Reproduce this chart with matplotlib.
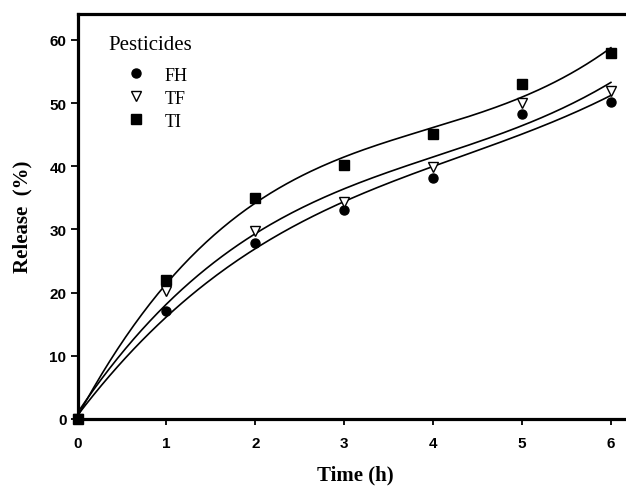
import numpy as np
import matplotlib
matplotlib.use("Agg")
import matplotlib.pyplot as plt
from matplotlib.lines import Line2D

# Release data (%) versus time (h)
time_h = [0, 1, 2, 3, 4, 5, 6]
fh = [0, 17.1, 27.8, 33.1, 38.1, 48.2, 50.1]
tf = [0, 20.2, 29.7, 34.4, 39.9, 50.0, 51.9]
ti = [0, 22.0, 35.0, 40.2, 45.1, 53.0, 58.0]

series_names = ["FH", "TF", "TI"]
series_values = [fh, tf, ti]
series_markers = ["o", "v", "s"]
series_faces = ["black", "white", "black"]
series_sizes = [6.5, 7, 6.5]

W, H = 626, 489
fig = plt.figure(figsize=(W / 100, H / 100), dpi=100)
ax = fig.add_axes([77.5 / W, 69 / H, (W - 77.5) / W, 405 / H])

x = np.asarray(time_h, dtype=float)
xs = np.linspace(0, 6, 200)
handles = []
for name, vals, mk, fc, ms in zip(series_names, series_values, series_markers,
                                  series_faces, series_sizes):
    y = np.asarray(vals, dtype=float)
    # cubic regression curve through the measured points
    coef = np.polyfit(x, y, 3)
    ax.plot(xs, np.polyval(coef, xs), color="black", lw=1.2, zorder=2)
    ax.plot(x, y, linestyle="none", marker=mk, markersize=ms,
            markerfacecolor=fc, markeredgecolor="black", markeredgewidth=1.0,
            clip_on=False, zorder=3)
    handles.append(Line2D([], [], linestyle="none", marker=mk, markersize=ms,
                          markerfacecolor=fc, markeredgecolor="black",
                          markeredgewidth=1.0, label=name))

ax.set_xlim(0, (W - 77.5) / 88.9)
ax.set_ylim(0, 64.1)
ax.set_xticks(range(0, 7))
ax.set_yticks(range(0, 61, 10))

for side in ["left", "bottom", "top"]:
    ax.spines[side].set_linewidth(2.3)
ax.spines["right"].set_visible(False)

ax.tick_params(axis="x", direction="out", length=4, width=1.3, pad=8.5)
ax.tick_params(axis="y", direction="out", length=5, width=1.3, pad=3)
ax.tick_params(top=False, right=False)
for lab in ax.get_xticklabels() + ax.get_yticklabels():
    lab.set_fontfamily("Liberation Sans")
    lab.set_fontweight("bold")
    lab.set_fontsize(11)

ax.set_xlabel("Time (h)", fontfamily="Liberation Serif", fontweight="bold",
              fontsize=15)
ax.xaxis.label.set_verticalalignment("center")
ax.xaxis.set_label_coords((355 - 77.5) / (W - 77.5), -(475 - 420) / 405)

ax.set_ylabel("Release  (%)", fontfamily="Liberation Serif", fontweight="bold",
              fontsize=15)
ax.yaxis.label.set_verticalalignment("center")
ax.yaxis.set_label_coords(-(77.5 - 22) / (W - 77.5), (420 - 217) / 405)

leg = ax.legend(handles=handles, title="Pesticides", loc="upper left",
                bbox_to_anchor=(24 / (W - 77.5), 1 - 14 / 405),
                frameon=False, borderaxespad=0, handlelength=3.0,
                handletextpad=0.1, labelspacing=0.33,
                prop={"family": "Liberation Serif", "size": 13},
                title_fontproperties={"family": "Liberation Serif", "size": 15})
leg._legend_box.align = "left"
leg._legend_box.sep = 9
leg.get_title().set_ha("left")

fig.savefig("out.png", dpi=100)
